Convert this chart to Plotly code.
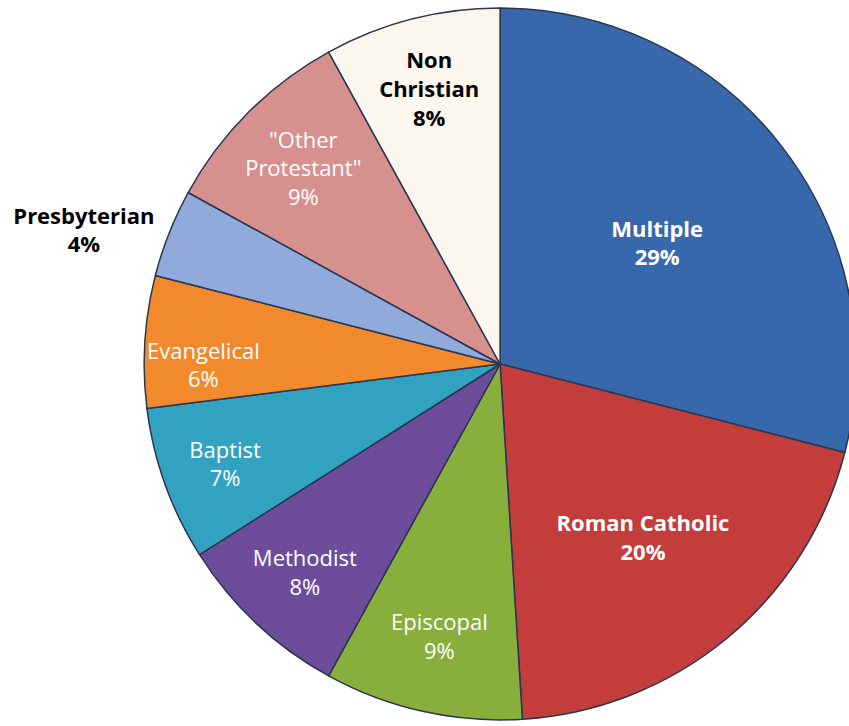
import plotly.graph_objects as go

categories = ["Multiple", "Roman Catholic", "Episcopal", "Methodist", "Baptist",
              "Evangelical", "Presbyterian", "\"Other Protestant\"", "Non Christian"]
display_labels = ["Multiple", "Roman Catholic", "Episcopal", "Methodist", "Baptist",
                  "Evangelical", "Presbyterian", "\"Other<br>Protestant\"", "Non<br>Christian"]
values = [29, 20, 9, 8, 7, 6, 4, 9, 8]
colors = ["#3768AC", "#C23D3B", "#88AE3C", "#6C4C9B", "#31A3C0",
          "#F08A2C", "#8FAADB", "#D6918F", "#FBF7EC"]
bold = [True, True, False, False, False, False, True, False, True]
text_colors = ["white", "white", "white", "white", "white", "white", "black", "white", "black"]
positions = ["inside"] * 6 + ["outside"] + ["inside"] * 2

texts = []
for lab, v, b in zip(display_labels, values, bold):
    s = f"{lab}<br>{v}%"
    texts.append(f"<b>{s}</b>" if b else s)

W, H = 861, 726
FONT = "Open Sans, Lato, sans-serif"
fig = go.Figure(go.Pie(
    labels=categories,
    values=values,
    text=texts,
    textinfo="text",
    textposition=positions,
    insidetextorientation="horizontal",
    sort=False,
    direction="clockwise",
    rotation=0,
    marker=dict(colors=colors, line=dict(color="#2B3650", width=1.5)),
    textfont=dict(family=FONT, size=22, color=text_colors),
    outsidetextfont=dict(family=FONT, size=22, color="black"),
    domain=dict(x=[145 / W, 1.0], y=[3 / H, 1 - 7 / H]),
    showlegend=False,
    hoverinfo="label+percent",
))
fig.update_layout(
    width=W, height=H,
    margin=dict(l=0, r=0, t=0, b=0),
    paper_bgcolor="white",
    plot_bgcolor="white",
)
fig.write_html("out.html",
               config={"displayModeBar": False},
               post_script="document.body.style.overflow='hidden';document.documentElement.style.overflow='hidden';document.body.style.margin='0';")
